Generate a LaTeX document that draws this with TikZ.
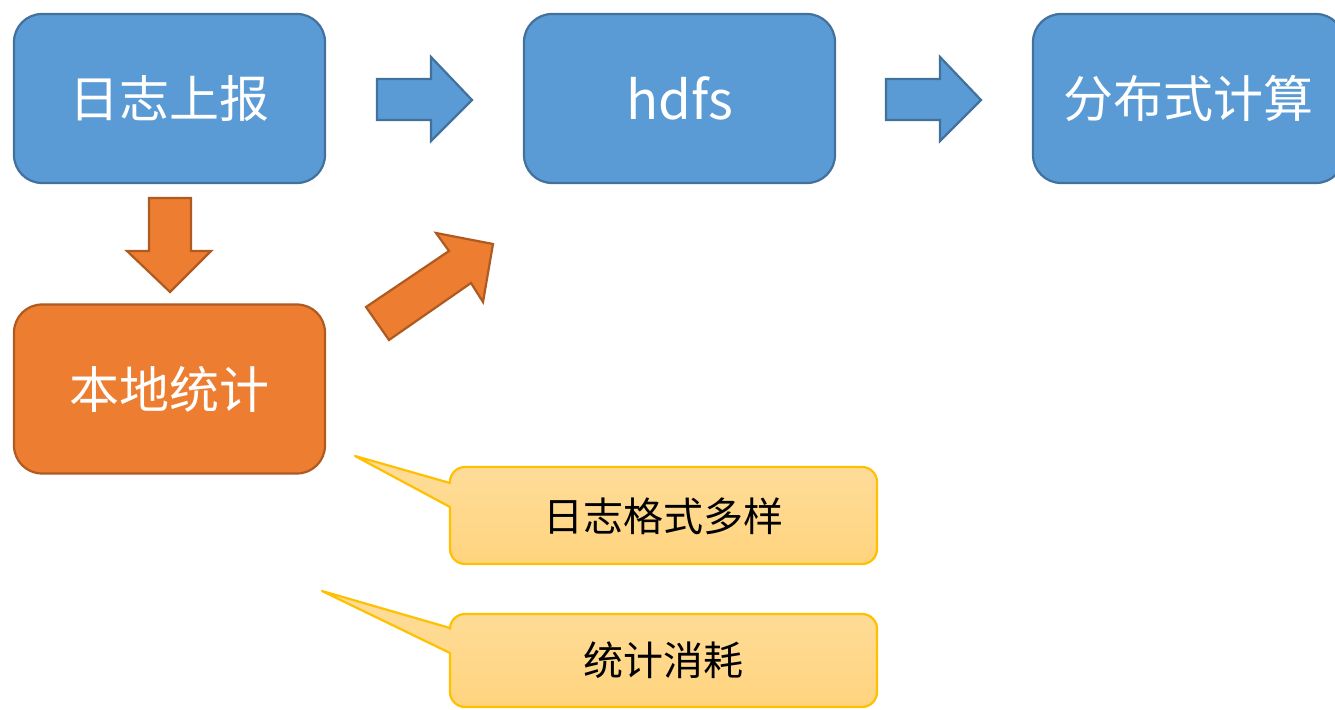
\documentclass[tikz,border=0pt]{standalone}
\usepackage{fontspec}
\setmainfont{Noto Sans CJK SC}
\newfontfamily\cjk{Noto Sans CJK SC}
\usetikzlibrary{calc}

\definecolor{boxblue}{HTML}{5B9BD5}
\definecolor{boxblueline}{HTML}{41719C}
\definecolor{boxorange}{HTML}{ED7D31}
\definecolor{boxorangeline}{HTML}{AE5A21}
\definecolor{notetop}{HTML}{FEDD9C}
\definecolor{notebottom}{HTML}{FFD47E}
\definecolor{noteline}{HTML}{FFC000}

\tikzset{
  x=1pt, y=1pt,
  stage/.style={rounded corners=28pt, line width=2.2pt, minimum width=311pt,
    minimum height=169pt, inner sep=0pt, text=white, font=\cjk\fontsize{50}{56}\selectfont},
  bluestage/.style={stage, fill=boxblue, draw=boxblueline},
  orangestage/.style={stage, fill=boxorange, draw=boxorangeline},
  bluearrow/.style={fill=boxblue, draw=boxblueline, line width=2.2pt, line join=miter},
  orangearrow/.style={fill=boxorange, draw=boxorangeline, line width=2.2pt, line join=miter},
  notebox/.style={top color=notetop, bottom color=notebottom, draw=noteline,
    line width=2.2pt, line join=round},
  notetext/.style={inner sep=0pt, text=black, font=\cjk\fontsize{40}{46}\selectfont},
}

\begin{document}
\begin{tikzpicture}
  \useasboundingbox (0,0) rectangle (1335,709);
  \fill[white] (0,0) rectangle (1335,709);

  % stages
  \node[bluestage]   (report) at (169.5,610.5) {日志上报};
  \node[bluestage, font=\cjk\fontsize{53}{58}\selectfont] (hdfs) at (679.5,610.5) {hdfs};
  \node[bluestage]   (compute) at (1188.5,610.5) {分布式计算};
  \node[orangestage] (local) at (169.5,320) {本地统计};

  % block arrows between stages
  \draw[bluearrow] (377,630) -- (431,630) -- (431,652) -- (472,609)
    -- (431,568) -- (431,589) -- (377,589) -- cycle;
  \draw[bluearrow] (886,630) -- (940,630) -- (940,652) -- (981,609)
    -- (940,568) -- (940,589) -- (886,589) -- cycle;
  \draw[orangearrow] (149,511) -- (191,511) -- (191,458) -- (211,458)
    -- (170,417) -- (127,458) -- (149,458) -- cycle;
  \draw[orangearrow] (366,402) -- (389,369) -- (471,426) -- (483,407)
    -- (493,465) -- (436,476) -- (449,458) -- cycle;

  % callouts
  \path[notebox] (450,226) -- (355,253) -- (450,202)
    [rounded corners=15pt] -- (450,145) -- (877,145) -- (877,242) -- (450,242)
    [sharp corners] -- cycle;
  \node[notetext] (fmt) at (663.5,193) {日志格式多样};

  \path[notebox] (450,81) -- (322,118) -- (450,56)
    [rounded corners=15pt] -- (450,2) -- (877,2) -- (877,95) -- (450,95)
    [sharp corners] -- cycle;
  \node[notetext] (cost) at (663.5,48.5) {统计消耗};
\end{tikzpicture}
\end{document}
